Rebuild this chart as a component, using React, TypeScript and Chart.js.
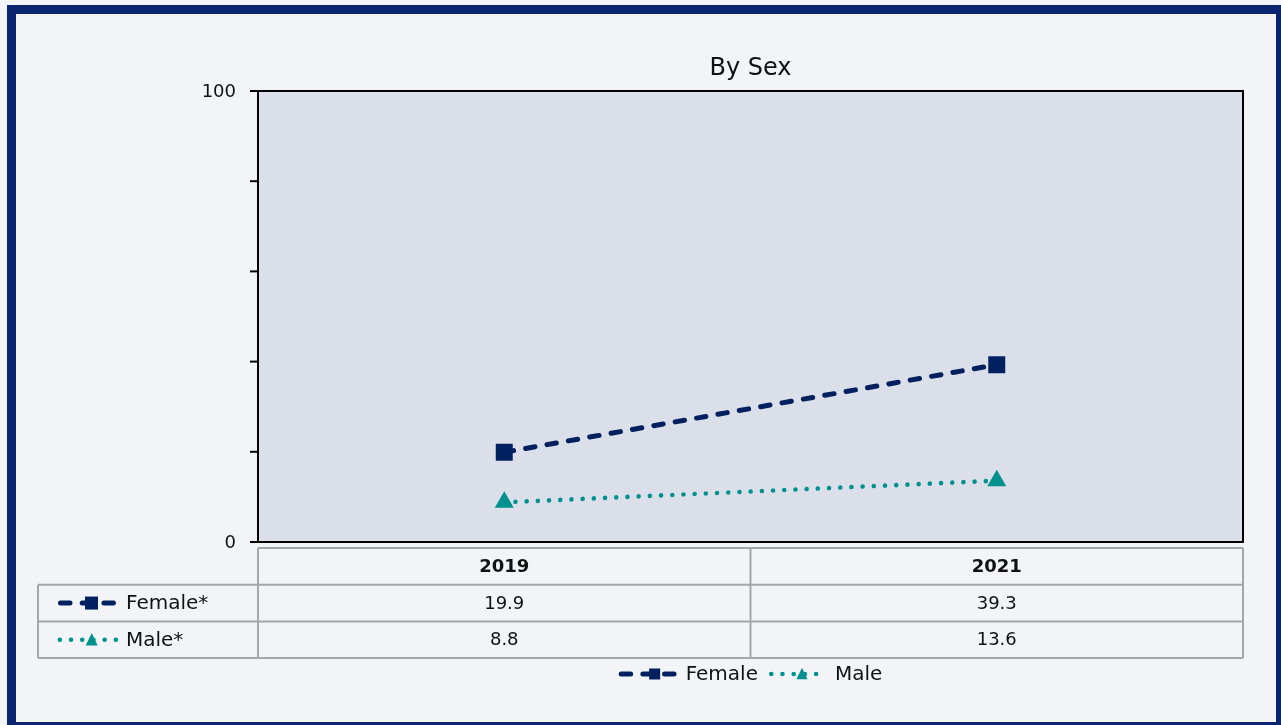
import React, { useEffect, useRef } from "react";
import { Chart, registerables } from "chart.js";

Chart.register(...registerables);

// ---- data ----
const years = ["2019", "2021"];
const femaleValues = [19.9, 39.3];
const maleValues = [8.8, 13.6];
const seriesNames = ["Female", "Male"];
const tableRowLabels = ["Female*", "Male*"];
const yTickValues = [0, 20, 40, 60, 80, 100];
const yTickLabels = ["0", "", "", "", "", "100"];
const chartTitle = "By Sex";

// ---- styles ----
const FONT = '"DejaVu Sans", "Noto Sans", sans-serif';
const NAVY = "#002060";
const TEAL = "#00918e";
const FRAME = "#0a2670";
const PAGE_BG = "#f3f4f8";
const PLOT_BG = "#dbdfe9";
const GRID_GRAY = "#a6a6a6";
const TEXT = "#111111";

type SeriesStyle = {
  color: string;
  width: number;
  dash: number[];
  marker: "rect" | "triangle";
};

const seriesStyles: SeriesStyle[] = [
  { color: NAVY, width: 5, dash: [9.5, 12.2], marker: "rect" },
  { color: TEAL, width: 4.6, dash: [0.01, 11.2], marker: "triangle" },
];

function drawMarker(
  ctx: CanvasRenderingContext2D,
  kind: "rect" | "triangle",
  x: number,
  y: number,
  size: number,
  color: string
) {
  ctx.save();
  ctx.fillStyle = color;
  ctx.beginPath();
  if (kind === "rect") {
    ctx.rect(x - size / 2, y - size / 2, size, size);
  } else {
    const h = size * 0.95;
    ctx.moveTo(x, y - h / 2 - 1);
    ctx.lineTo(x + size / 2, y + h / 2);
    ctx.lineTo(x - size / 2, y + h / 2);
    ctx.closePath();
  }
  ctx.fill();
  ctx.restore();
}

// x0: left edge of visible stroke, len: visible length, mx: marker centre
function drawSample(
  ctx: CanvasRenderingContext2D,
  st: SeriesStyle,
  x0: number,
  len: number,
  mx: number,
  y: number,
  markerSize: number
) {
  const cap = st.width / 2;
  ctx.save();
  ctx.strokeStyle = st.color;
  ctx.lineWidth = st.width;
  ctx.lineCap = "round";
  ctx.setLineDash(st.dash);
  ctx.beginPath();
  ctx.moveTo(x0 + cap, y);
  ctx.lineTo(x0 + len - cap, y);
  ctx.stroke();
  ctx.restore();
  drawMarker(ctx, st.marker, mx, y, markerSize, st.color);
}

const decorPlugin = {
  id: "decor",
  beforeDatasetsDraw(chart: any) {
    const { ctx, chartArea: a } = chart;
    ctx.save();
    ctx.fillStyle = PLOT_BG;
    ctx.fillRect(a.left, a.top, a.right - a.left, a.bottom - a.top);
    ctx.restore();
  },
  afterDatasetsDraw(chart: any) {
    const { ctx, chartArea: a } = chart;
    const ys = chart.scales.y;
    ctx.save();
    ctx.strokeStyle = "#000";
    ctx.lineWidth = 2;
    ctx.strokeRect(a.left, a.top, a.right - a.left, a.bottom - a.top);
    ctx.fillStyle = TEXT;
    ctx.font = `18px ${FONT}`;
    ctx.textAlign = "right";
    ctx.textBaseline = "middle";
    yTickValues.forEach((v, i) => {
      const py = ys.getPixelForValue(v);
      ctx.beginPath();
      ctx.moveTo(a.left - 8, py);
      ctx.lineTo(a.left, py);
      ctx.stroke();
      if (yTickLabels[i]) ctx.fillText(yTickLabels[i], a.left - 22, py + 1);
    });
    ctx.font = `24px ${FONT}`;
    ctx.textAlign = "center";
    ctx.fillText(chartTitle, (a.left + a.right) / 2, 69);
    ctx.restore();
  },
  afterDraw(chart: any) {
    const { ctx, chartArea: a } = chart;
    const xs = chart.scales.x;
    const centers = years.map((_, i) => xs.getPixelForValue(i));
    const half = (centers[1] - centers[0]) / 2;
    const colEdges = [centers[0] - half, ...centers.map((c) => c + half)];
    const leftX = 38;
    const top = a.bottom + 6;
    const rowH = 36.7;
    const rows = [top, top + rowH, top + 2 * rowH, top + 3 * rowH];

    ctx.save();
    ctx.strokeStyle = GRID_GRAY;
    ctx.lineWidth = 2;
    ctx.beginPath();
    ctx.moveTo(colEdges[0], rows[0]);
    ctx.lineTo(colEdges[2], rows[0]);
    for (let r = 1; r < 4; r++) {
      ctx.moveTo(leftX, rows[r]);
      ctx.lineTo(colEdges[2], rows[r]);
    }
    ctx.moveTo(leftX, rows[1]);
    ctx.lineTo(leftX, rows[3]);
    colEdges.forEach((x) => {
      ctx.moveTo(x, rows[0]);
      ctx.lineTo(x, rows[3]);
    });
    ctx.stroke();

    ctx.fillStyle = TEXT;
    ctx.textBaseline = "middle";
    ctx.textAlign = "center";
    ctx.font = `bold 18px ${FONT}`;
    years.forEach((yr, i) => ctx.fillText(yr, centers[i], rows[0] + rowH / 2 + 1));

    ctx.font = `18px ${FONT}`;
    const allVals = [femaleValues, maleValues];
    allVals.forEach((vals, r) => {
      vals.forEach((v, i) =>
        ctx.fillText(v.toFixed(1), centers[i], rows[r + 1] + rowH / 2 + 1)
      );
    });

    ctx.textAlign = "left";
    ctx.font = `20px ${FONT}`;
    tableRowLabels.forEach((lbl, r) => {
      const cy = rows[r + 1] + rowH / 2;
      const st = seriesStyles[r];
      if (r === 0) drawSample(ctx, st, 58, 59, 91.5, cy, 13);
      else drawSample(ctx, st, 57.5, 61, 91.7, cy, 12);
      ctx.fillText(lbl, 126, cy + 1);
    });

    // bottom legend
    const ly = 674;
    const widths = seriesNames.map((n) => ctx.measureText(n).width);
    const iconW = 60;
    const textGap = 7;
    const itemGap = 10;
    const total = 2 * (iconW + textGap) + widths[0] + widths[1] + itemGap;
    let x = (a.left + a.right) / 2 - total / 2;
    seriesNames.forEach((n, i) => {
      const st = seriesStyles[i];
      if (i === 0) drawSample(ctx, st, x, iconW, x + 36, ly, 11);
      else drawSample(ctx, st, x + 1, iconW, x + 34, ly, 11);
      x += iconW + textGap;
      ctx.fillText(n, x, ly + 1);
      x += widths[i] + itemGap;
    });
    ctx.restore();
  },
};

export default function App() {
  const canvasRef = useRef<HTMLCanvasElement | null>(null);

  useEffect(() => {
    const canvas = canvasRef.current;
    if (!canvas) return;
    const chart = new Chart(canvas, {
      type: "line",
      data: {
        labels: years,
        datasets: [
          {
            label: seriesNames[0],
            data: femaleValues,
            borderColor: NAVY,
            backgroundColor: NAVY,
            borderWidth: seriesStyles[0].width,
            borderDash: seriesStyles[0].dash,
            borderCapStyle: "round",
            pointStyle: "rect",
            pointRadius: 12,
            pointBorderWidth: 0,
            pointBackgroundColor: NAVY,
            fill: false,
            tension: 0,
          },
          {
            label: seriesNames[1],
            data: maleValues,
            borderColor: TEAL,
            backgroundColor: TEAL,
            borderWidth: seriesStyles[1].width,
            borderDash: seriesStyles[1].dash,
            borderCapStyle: "round",
            pointStyle: "triangle",
            pointRadius: 11,
            pointBorderWidth: 0,
            pointBackgroundColor: TEAL,
            fill: false,
            tension: 0,
          },
        ],
      },
      options: {
        responsive: false,
        animation: false,
        devicePixelRatio: 1,
        layout: { padding: { left: 258, top: 91, right: 38, bottom: 183 } },
        plugins: {
          legend: { display: false },
          title: { display: false },
          tooltip: { enabled: false },
        },
        scales: {
          x: { type: "category", offset: true, display: false },
          y: { min: 0, max: 100, display: false },
        },
      },
      plugins: [decorPlugin],
    } as any);
    return () => chart.destroy();
  }, []);

  return (
    <div
      style={{
        position: "fixed",
        left: 0,
        top: 0,
        width: 1281,
        height: 725,
        overflow: "hidden",
        background: PAGE_BG,
      }}
    >
      <div
        style={{
          position: "absolute",
          left: 7,
          top: 5,
          width: 1278,
          height: 726,
          border: `9px solid ${FRAME}`,
          boxSizing: "border-box",
        }}
      />
      <canvas
        ref={canvasRef}
        width={1281}
        height={725}
        style={{ position: "absolute", left: 0, top: 0, width: 1281, height: 725 }}
      />
    </div>
  );
}
